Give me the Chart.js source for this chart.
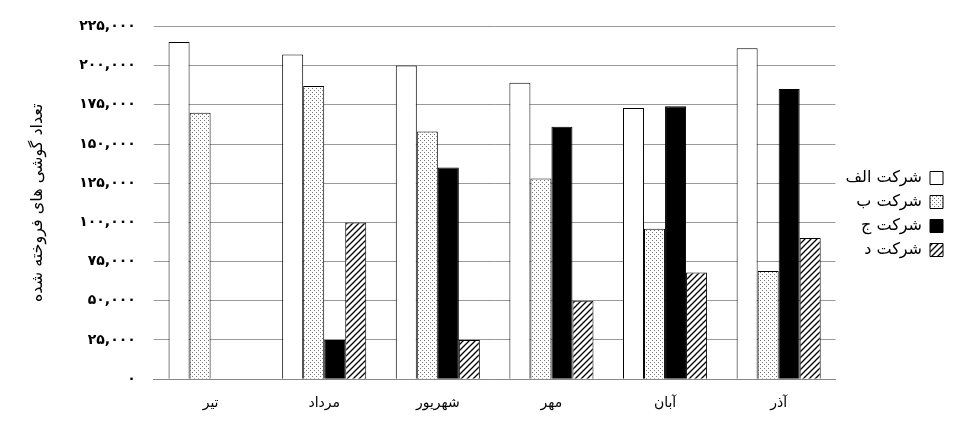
<!DOCTYPE html>
<html>
<head>
<meta charset="utf-8">
<script src="https://cdn.jsdelivr.net/npm/chart.js@4"></script>
<style>
  html, body { margin: 0; padding: 0; background: #fff; }
  #wrap { width: 953px; height: 434px; }
</style>
</head>
<body>
<div id="wrap"><canvas id="chart"></canvas></div>
<script>
const months = ["تیر", "مرداد", "شهریور", "مهر", "آبان", "آذر"];
const seriesNames = ["شرکت الف", "شرکت ب", "شرکت ج", "شرکت د"];
const alef = [215000, 207000, 200000, 189000, 173000, 211000];
const be = [170000, 187000, 158000, 128000, 96000, 69000];
const jim = [null, 25000, 135000, 161000, 174000, 185000];
const dal = [null, 100000, 25000, 50000, 68000, 90000];

function toFa(n) {
  const s = n.toString().replace(/\B(?=(\d{3})+(?!\d))/g, ",");
  return s.replace(/\d/g, d => "۰۱۲۳۴۵۶۷۸۹"[d]);
}

function dotPattern() {
  const c = document.createElement("canvas");
  c.width = 4; c.height = 4;
  const x = c.getContext("2d");
  x.fillStyle = "#fff"; x.fillRect(0, 0, 4, 4);
  x.fillStyle = "#777";
  x.fillRect(0, 0, 1, 1); x.fillRect(2, 2, 1, 1);
  return x.createPattern(c, "repeat");
}

function hatchPattern() {
  const c = document.createElement("canvas");
  c.width = 6; c.height = 6;
  const x = c.getContext("2d");
  x.fillStyle = "#fff"; x.fillRect(0, 0, 6, 6);
  x.strokeStyle = "#000"; x.lineWidth = 1.3;
  x.beginPath();
  x.moveTo(0, 6); x.lineTo(6, 0);
  x.moveTo(-1, 1); x.lineTo(1, -1);
  x.moveTo(5, 7); x.lineTo(7, 5);
  x.stroke();
  return x.createPattern(c, "repeat");
}

const fills = ["#fff", dotPattern(), "#000", hatchPattern()];
const values = [alef, be, jim, dal];

const datasets = seriesNames.map((name, i) => ({
  label: name,
  data: values[i],
  backgroundColor: fills[i],
  borderColor: "#000",
  borderWidth: 1,
  categoryPercentage: 0.74,
  barPercentage: 1
}));

Chart.defaults.font.family = "DejaVu Sans";
Chart.defaults.color = "#000";

new Chart(document.getElementById("chart"), {
  type: "bar",
  data: { labels: months, datasets: datasets },
  options: {
    responsive: true,
    maintainAspectRatio: false,
    animation: false,
    layout: { padding: { top: 8, right: 2, left: 24, bottom: 14 } },
    plugins: {
      tooltip: { enabled: false },
      legend: {
        position: "right",
        rtl: true,
        labels: { boxWidth: 13, boxHeight: 13, font: { size: 16 }, padding: 8 }
      }
    },
    scales: {
      x: {
        grid: { display: false },
        border: { color: "#888" },
        ticks: { font: { size: 14 }, padding: 8 }
      },
      y: {
        min: 0, max: 225000,
        ticks: { stepSize: 25000, callback: v => toFa(v), font: { size: 14, weight: "bold" }, padding: 18 },
        grid: { color: "#999", tickLength: 0 },
        border: { display: false },
        title: { display: true, text: "تعداد گوشی های فروخته شده", font: { size: 16 }, padding: { bottom: 14 } }
      }
    }
  }
});
</script>
</body>
</html>
